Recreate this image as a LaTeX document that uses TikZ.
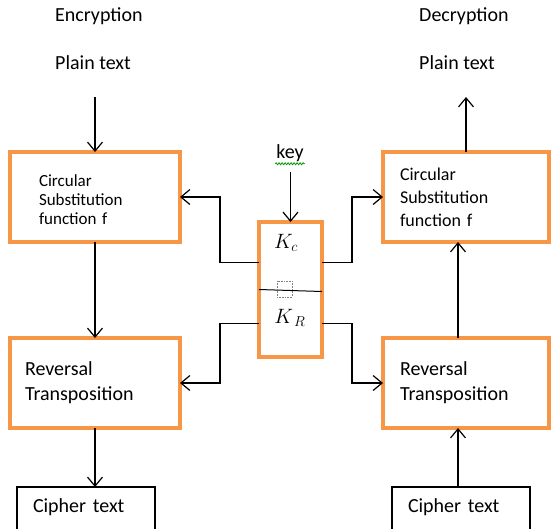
\documentclass[tikz,border=0pt]{standalone}
\usepackage{fontspec}
\setmainfont{Carlito}
\usepackage{tikz}
\usetikzlibrary{arrows.meta,positioning,calc,decorations.pathmorphing}

\definecolor{boxorange}{RGB}{247,150,70}

\begin{document}
\begin{tikzpicture}[
    x=1pt, y=-1pt,
    stage/.style={draw=boxorange, line width=3.5pt, rectangle, minimum width=170pt, minimum height=90pt, align=left, anchor=north west, inner sep=0pt, outer sep=0pt},
    keyblock/.style={draw=boxorange, line width=3.5pt, rectangle, minimum width=63pt, minimum height=135pt, anchor=north west, inner sep=0pt, outer sep=0pt},
    textbox/.style={draw, line width=1.2pt, rectangle, minimum width=138pt, text height=25pt, text depth=20pt, text width=106pt, align=left, anchor=north west, inner sep=0pt, outer sep=0pt, font=\fontsize{20}{24}\selectfont},
    title/.style={anchor=west, inner sep=0pt, font=\fontsize{20}{24}\selectfont},
    arrow/.style={-{Straight Barb[length=9pt,width=15pt]}, line width=1.2pt},
    link/.style={line width=1.2pt}
]
    \clip (0,0) rectangle (551,528);

    % Titles
    \node [title] (enc_title) at (55,16) {Encryption};
    \node [title] (enc_plain) at (55,63) {Plain text};
    \node [title] (dec_title) at (419,16) {Decryption};
    \node [title] (dec_plain) at (419,63) {Plain text};
    \coordinate (enc_in) at (95,97);
    \coordinate (dec_out) at (466,97);

    % Encryption side
    \node [stage, text width=112pt, text depth=32pt, font=\fontsize{17}{19}\selectfont] (cs_enc) at (10,152) {Circular\\Substitution\\function f};
    \node [stage, text width=140pt, font=\fontsize{20}{25}\selectfont] (rev_enc) at (10,338) {Reversal\\Transposition};
    \node [textbox] (cipher_enc) at (17,487) {Cipher text};

    % Decryption side
    \node [stage, minimum width=166pt, text width=132pt, font=\fontsize{18}{23}\selectfont] (cs_dec) at (383,152) {Circular\\Substitution\\function f};
    \node [stage, minimum width=166pt, text width=132pt, font=\fontsize{20}{25}\selectfont] (rev_dec) at (383,338) {Reversal\\Transposition};
    \node [textbox] (cipher_dec) at (392,487) {Cipher text};

    % Key
    \node [font=\fontsize{20}{24}\selectfont, inner sep=1pt] (key_label) at (290,153) {key};
    \draw [green!60!black, line width=0.8pt, decorate, decoration={snake, amplitude=1pt, segment length=3pt}] ([yshift=-1pt]key_label.south west) -- ([yshift=-1pt]key_label.south east);
    \node [keyblock] (keybox) at (259,222) {};
    \coordinate (key_in) at ($(keybox.north)+(0,-50)$);
    \node [font=\fontsize{20}{24}\selectfont] (k_c) at (286,243) {$K_c$};
    \node [font=\fontsize{20}{24}\selectfont] (k_r) at (290,318) {$K_{\,R}$};
    \draw [line width=1pt] (keybox.west) -- ($(keybox.east)+(0,2)$);
    \draw [densely dotted, gray, line width=0.6pt] (277,281) rectangle (292,297);

    % Connections
    \draw [arrow] (enc_in) -- (cs_enc.north);
    \draw [arrow] (cs_enc.south) -- (rev_enc.north);
    \draw [arrow] (rev_enc.south) -- (cipher_enc.north -| rev_enc.south);

    \draw [arrow] (cs_dec.north) -- (dec_out);
    \draw [arrow] ($(rev_dec.north)+(-8,0)$) -- ($(cs_dec.south)+(-8,0)$);
    \draw [arrow] ($(rev_dec.south |- cipher_dec.north)+(-8,0)$) -- ($(rev_dec.south)+(-8,0)$);

    \draw [arrow] (key_in) -- (keybox.north);
    \draw [arrow] ($(keybox.west)+(0,-27)$) -- ++(-39,0) |- (cs_enc.east);
    \draw [arrow] ($(keybox.east)+(0,-27)$) -- ++(30,0) |- (cs_dec.west);
    \draw [arrow] ($(keybox.west)+(0,34)$) -- ++(-39,0) |- (rev_enc.east);
    \draw [arrow] ($(keybox.east)+(0,34)$) -- ++(30,0) |- (rev_dec.west);

\end{tikzpicture}
\end{document}
